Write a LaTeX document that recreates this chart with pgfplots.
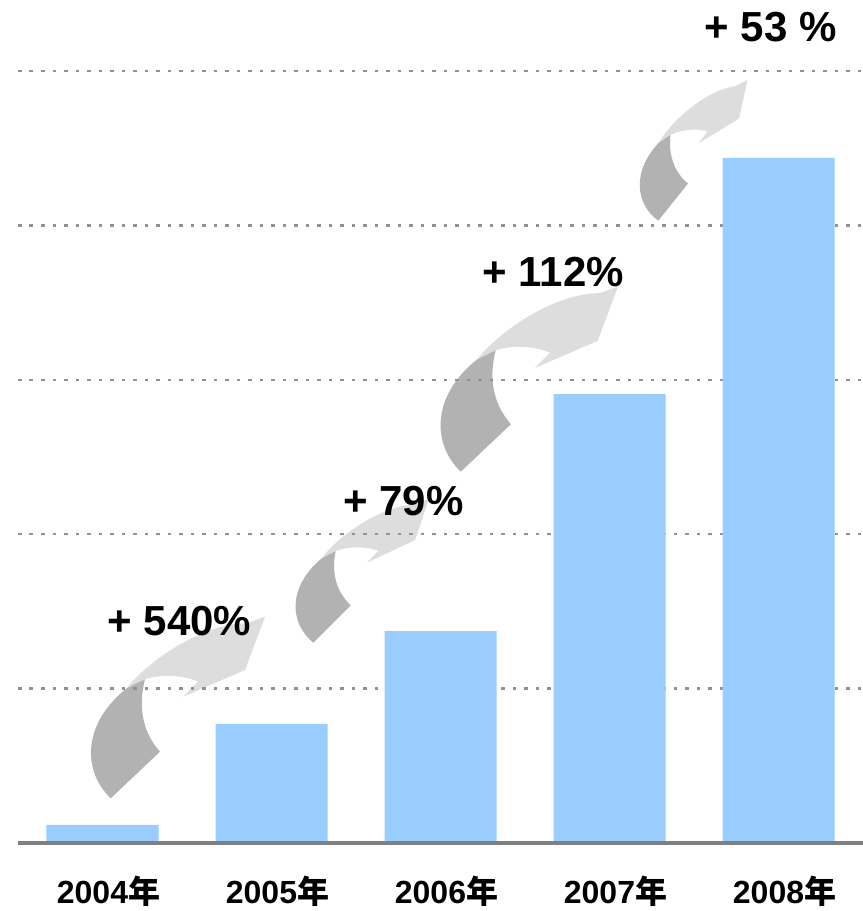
\documentclass[border=0pt]{standalone}
\usepackage{fontspec}
\setmainfont{Liberation Sans}
\newfontfamily\cjk{Noto Sans CJK SC}
\usepackage{pgfplots}
\pgfplotsset{compat=1.18}

\definecolor{barblue}{RGB}{153,204,255}
\definecolor{gridgray}{RGB}{145,145,145}
\definecolor{basegray}{RGB}{128,128,128}
\definecolor{arrdark}{RGB}{178,178,178}
\definecolor{arrlight}{RGB}{221,221,221}

% curved growth arrow, drawn from its lower tip
\tikzset{
  growarrow/.pic={
    \fill[arrlight] (16,110) .. controls (35,135) and (90,175) .. (136,175)
      -- (154.3,181.6) -- (134.3,128.3) -- (72.6,101.6) -- (87.6,116.6)
      .. controls (70,124) and (50,124) .. (34.3,119) -- cycle;
    \fill[arrdark] (0,0) .. controls (-29,28) and (-28,75) .. (16,110)
      -- (34.3,119) .. controls (28,95) and (30,68) .. (49.3,46.6) -- cycle;
  },
  pct/.style={font=\bfseries\fontsize{21}{24}\selectfont, anchor=base, inner sep=0pt}
}

\begin{document}
\begin{tikzpicture}
% arrows sit behind the grid; the axis box has its lower left corner at (0,0)
\pic[x=0.5pt, y=0.5pt] at (46.35pt,22.35pt) {growarrow};
\pic[x=0.5pt, y=0.5pt, xscale=0.8, yscale=0.76, rotate=3] at (147.65pt,100.15pt) {growarrow};
\pic[x=0.5pt, y=0.5pt, scale=1.02] at (221.35pt,185.65pt) {growarrow};
\pic[x=0.5pt, y=0.5pt, scale=0.70, rotate=8] at (320.15pt,311.15pt) {growarrow};

\begin{axis}[
  scale only axis,
  width=422.5pt, height=386pt,
  xmin=-0.5, xmax=4.5, ymin=0, ymax=5,
  clip=false,
  axis line style={draw=none},
  tick style={draw=none},
  xtick={0,1,2,3,4},
  xticklabels={2004{\cjk 年},2005{\cjk 年},2006{\cjk 年},2007{\cjk 年},2008{\cjk 年}},
  xticklabel style={font=\bfseries\fontsize{16}{18}\selectfont, anchor=base, yshift=-30pt, xshift=3pt},
  ytick={1,2,3,4,5},
  yticklabels={},
  ymajorgrids=true,
  major grid style={draw=gridgray, line width=1.15pt, dash pattern=on 1.9pt off 3.85pt},
]
\addplot[ybar, bar width=56pt, fill=barblue, draw=none] coordinates {
  (0,0.117) (1,0.771) (2,1.373) (3,2.908) (4,4.437)
};
\draw[basegray, line width=1.85pt] (rel axis cs:0,0) -- (rel axis cs:1,0);

\coordinate (t1) at (axis cs:0.4556,1.347);
\coordinate (t2) at (axis cs:1.780,2.124);
\coordinate (t3) at (axis cs:2.6675,3.603);
\coordinate (t4) at (axis cs:3.954,5.190);

\coordinate (bb1) at (axis cs:-0.6065,-0.4404);
\coordinate (bb2) at (axis cs:4.5,5.4598);
\end{axis}

\node[pct] at (t1) {+ 540\%};
\node[pct] at (t2) {+ 79\%};
\node[pct] at (t3) {+ 112\%};
\node[pct] at (t4) {+ 53 \%};

\pgfresetboundingbox
\path[use as bounding box] (bb1) rectangle (bb2);
\end{tikzpicture}
\end{document}
